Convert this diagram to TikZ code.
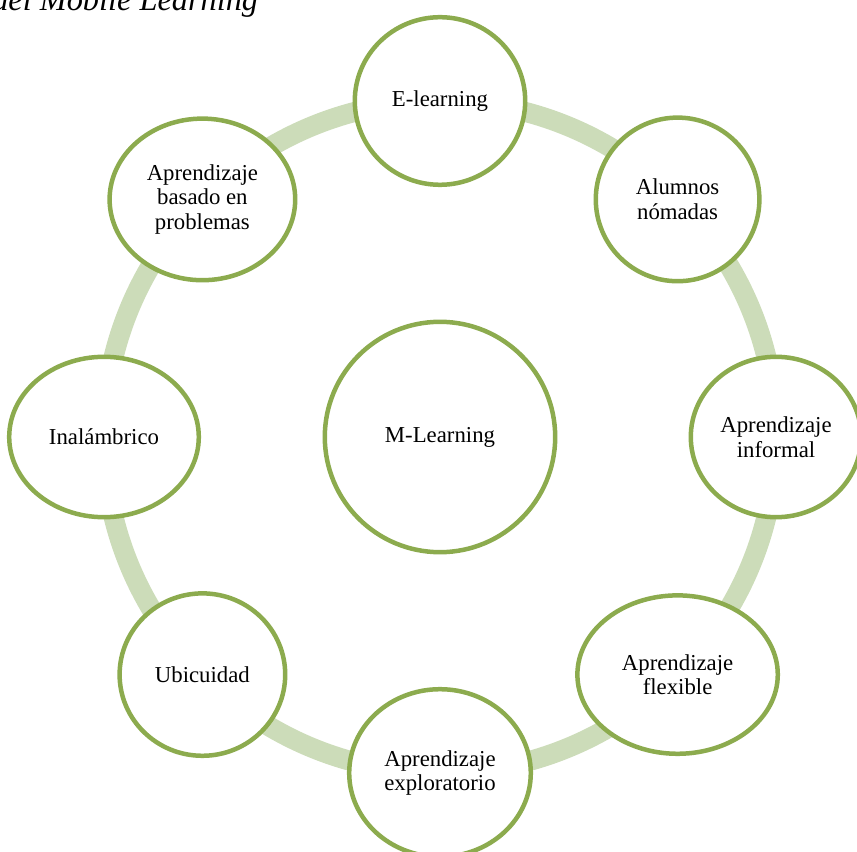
\documentclass[tikz,border=0pt]{standalone}
\usepackage{fontspec}
\setmainfont{Liberation Serif}
\usetikzlibrary{shapes.geometric}
\definecolor{olivegreen}{RGB}{140,171,78}
\definecolor{palegreen}{RGB}{204,220,185}
\tikzset{
  ringband/.style={draw=palegreen, line width=14.2pt},
  bubble/.style={
    ellipse,
    draw=olivegreen, line width=3.2pt,
    fill=white,
    inner sep=1pt,
    align=center,
    font=\fontsize{16.2}{17.4}\selectfont},
  caption/.style={
    font=\fontsize{23}{25}\selectfont\itshape,
    anchor=base west, inner sep=0pt},
}

\begin{document}
\begin{tikzpicture}
\useasboundingbox (-11,-10.35) rectangle (10.425,10.925);
\clip (-11,-10.35) rectangle (10.425,10.925);
\coordinate (C) at (0,0);
\node[caption] (title) at (-11.2,10.65) {del Mobile Learning};
% background ring
\draw[ringband] (C) circle (8.4);
\node[bubble, minimum width=5.76cm, minimum height=5.76cm] (mlearn) at (C) {M-Learning};
\foreach \ang/\nm/\bw/\bh/\txt in {90/elearn/4.26/4.19/E-learning,
    45/nomad/4.09/4.09/Alumnos\\nómadas,
    0/informal/4.26/4.01/Aprendizaje\\informal,
    -45/flexible/5.01/3.96/Aprendizaje\\flexible,
    -90/explor/4.54/4.19/Aprendizaje\\exploratorio,
    -135/ubic/4.14/4.06/Ubicuidad,
    180/inalam/4.74/4.01/Inalámbrico,
    135/problem/4.64/4.04/Aprendizaje\\basado en\\problemas}{
  \node[bubble, minimum width=\bw cm, minimum height=\bh cm] (\nm) at (\ang:8.4) {\txt};
}
\end{tikzpicture}
\end{document}
